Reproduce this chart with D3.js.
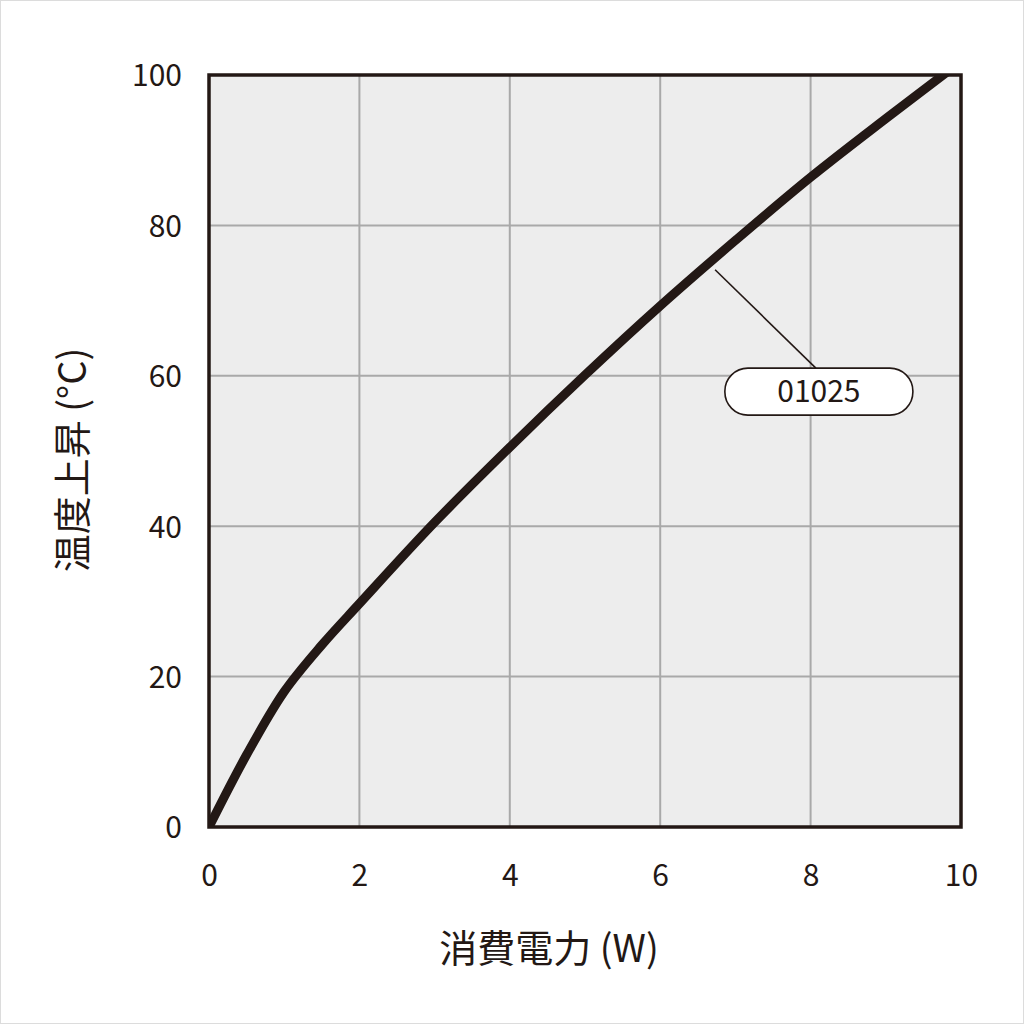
<!DOCTYPE html>
<html><head><meta charset="utf-8">
<script src="https://cdn.jsdelivr.net/npm/d3@7"></script>
<style>html,body{margin:0;padding:0;background:#fff;}svg{display:block;}</style>
</head><body>
<script>
const powerW = [0, 0.5, 1, 1.5, 2, 3, 4, 5, 6, 7, 8, 9, 10];
const tempRise = [0, 9.6, 18.0, 24.2, 29.7, 40.5, 50.5, 60.1, 69.3, 78, 86.4, 94.2, 101.8];
const xTicks = [0, 2, 4, 6, 8, 10];
const yTicks = [0, 20, 40, 60, 80, 100];
const seriesName = "01025";
const xTitle = "消費電力 (W)";
const yTitle = "温度上昇 (°C)";

const W = 1024, H = 1024;
const m = {l: 209, r: 961, t: 75, b: 827};
const font = "'Noto Sans CJK JP','Noto Sans',sans-serif";
const ink = "#231815";

const svg = d3.select("body").append("svg").attr("width", W).attr("height", H);
svg.append("rect").attr("x", 0.5).attr("y", 0.5).attr("width", W - 1).attr("height", H - 1)
  .attr("fill", "#fff").attr("stroke", "#dcdcdc").attr("stroke-width", 1);

const x = d3.scaleLinear().domain([0, 10]).range([m.l, m.r]);
const y = d3.scaleLinear().domain([0, 100]).range([m.b, m.t]);

svg.append("rect").attr("x", m.l).attr("y", m.t).attr("width", m.r - m.l).attr("height", m.b - m.t)
  .attr("fill", "#ededed");

// grid
const g = svg.append("g");
g.selectAll(".gx").data(xTicks.slice(1, -1)).join("line")
  .attr("x1", d => x(d)).attr("x2", d => x(d)).attr("y1", m.t).attr("y2", m.b)
  .attr("stroke", "#a9a9a9").attr("stroke-width", 2);
g.selectAll(".gy").data(yTicks.slice(1, -1)).join("line")
  .attr("y1", d => y(d)).attr("y2", d => y(d)).attr("x1", m.l).attr("x2", m.r)
  .attr("stroke", "#a9a9a9").attr("stroke-width", 2);

// axes (labels only)
const xAxis = svg.append("g").attr("transform", `translate(0,${m.b})`)
  .call(d3.axisBottom(x).tickValues(xTicks).tickSize(0).tickPadding(38).tickFormat(d3.format("d")));
const yAxis = svg.append("g").attr("transform", `translate(${m.l},0)`)
  .call(d3.axisLeft(y).tickValues(yTicks).tickSize(0).tickPadding(27).tickFormat(d3.format("d")));
[xAxis, yAxis].forEach(a => {
  a.select(".domain").remove();
  a.selectAll("text").attr("font-family", font).attr("font-size", 30).attr("fill", ink);
});
yAxis.selectAll("text").attr("dy", "0.36em");

// clip
svg.append("clipPath").attr("id", "clip").append("rect")
  .attr("x", m.l).attr("y", m.t).attr("width", m.r - m.l).attr("height", m.b - m.t);

const pts = powerW.map((p, i) => [p, tempRise[i]]);
const line = d3.line().x(d => x(d[0])).y(d => y(d[1])).curve(d3.curveCatmullRom.alpha(0.5));
svg.append("path").datum(pts).attr("d", line).attr("clip-path", "url(#clip)")
  .attr("fill", "none").attr("stroke", ink).attr("stroke-width", 9).attr("stroke-linecap", "butt");

// frame
svg.append("rect").attr("x", m.l).attr("y", m.t).attr("width", m.r - m.l).attr("height", m.b - m.t)
  .attr("fill", "none").attr("stroke", ink).attr("stroke-width", 3.5);

// callout
const anchor = [6.73, 74.1];
const labelPos = [8.11, 57.9];
const bw = 188, bh = 47;
svg.append("line").attr("x1", x(anchor[0])).attr("y1", y(anchor[1]))
  .attr("x2", x(labelPos[0]) - 3).attr("y2", y(labelPos[1]) - bh / 2)
  .attr("stroke", ink).attr("stroke-width", 1.6);
svg.append("rect").attr("x", x(labelPos[0]) - bw / 2).attr("y", y(labelPos[1]) - bh / 2)
  .attr("width", bw).attr("height", bh).attr("rx", 23).attr("ry", 23)
  .attr("fill", "#fff").attr("stroke", ink).attr("stroke-width", 1.6);
svg.append("text").attr("x", x(labelPos[0])).attr("y", y(labelPos[1]))
  .attr("dy", "0.36em").attr("text-anchor", "middle").attr("font-family", font)
  .attr("font-size", 30).attr("fill", ink).text(seriesName);

// titles
svg.append("text").attr("x", 549).attr("y", 948).attr("dy", "0.36em")
  .attr("text-anchor", "middle").attr("font-family", font).attr("font-size", 38).attr("fill", ink)
  .text(xTitle);
svg.append("text").attr("transform", `translate(72,460) rotate(-90)`)
  .attr("dy", "0.36em").attr("text-anchor", "middle").attr("font-family", font).attr("font-size", 38)
  .attr("fill", ink).text(yTitle);
</script>
</body></html>
